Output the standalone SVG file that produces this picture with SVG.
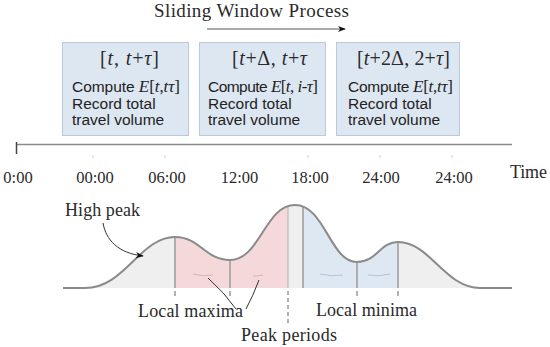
<svg xmlns="http://www.w3.org/2000/svg" width="550" height="347" viewBox="0 0 550 347">
<defs>
<marker id="ah" viewBox="0 0 10 10" refX="9" refY="5" markerWidth="8" markerHeight="8" orient="auto" markerUnits="userSpaceOnUse"><path d="M0,1 L10,5 L0,9 L3,5 Z" fill="#111"/></marker>
<clipPath id="under"><path d="M63,288 L85,288 C125,288 140,237 175,237 C200,237 205,260 230,260 C260,260 265,205 295,205 C325,205 330,262 357,262 C377,262 380,242 398,242 C430,242 445,288 480,288 L512,288 Z"/></clipPath>
<style>
.serif{font-family:"Liberation Serif","DejaVu Serif",serif;fill:#2a2a2a}
.lbl{font-size:18px}
.tl{font-size:16.5px;text-anchor:middle}
.hdr{font-size:20px}
.sans{font-family:"Liberation Sans",Arial,sans-serif;fill:#222;font-size:15.5px}
.m{font-family:"Liberation Serif","DejaVu Serif",serif;font-size:17px}
.i{font-style:italic}
.box{fill:#dde7f2;stroke:#b8cadc;stroke-width:1}
.div{stroke:#9a9a9a;stroke-width:1.5}
.tick{stroke:#666;stroke-width:1}
.faint{fill:none;stroke-width:1}
.conn{fill:none;stroke:#333;stroke-width:1}
</style>
</defs>
<rect width="550" height="347" fill="#fff"/>

<g id="title">
<text class="serif" x="154" y="17" font-size="19" textLength="195">Sliding Window Process</text>
</g>

<g id="box1">
<rect class="box" x="62.5" y="42.5" width="126" height="93"/>
<text class="serif hdr" x="100" y="65" textLength="59">[<tspan class="i">t</tspan>, <tspan class="i">t</tspan>+<tspan class="i">τ</tspan>]</text>
<text class="sans" x="72" y="91.5" textLength="108">Compute <tspan class="m"><tspan class="i">E</tspan>[<tspan class="i">t</tspan>,<tspan class="i">tτ</tspan>]</tspan></text>
<text class="sans" x="72" y="108.5">Record total</text>
<text class="sans" x="72" y="124.5">travel volume</text>
</g>

<g id="box2">
<rect class="box" x="199.5" y="42.5" width="126" height="93"/>
<text class="serif hdr" x="232" y="65" textLength="75">[<tspan class="i">t</tspan>+Δ, <tspan class="i">t</tspan>+<tspan class="i">τ</tspan></text>
<text class="sans" x="208" y="91.5" textLength="110">Compute <tspan class="m"><tspan class="i">E</tspan>[<tspan class="i">t</tspan>, <tspan class="i">i</tspan>-<tspan class="i">τ</tspan>]</tspan></text>
<text class="sans" x="208" y="108.5">Record total</text>
<text class="sans" x="208" y="124.5">travel volume</text>
</g>

<g id="box3">
<rect class="box" x="336.5" y="42.5" width="123" height="93"/>
<text class="serif hdr" x="357" y="65" textLength="93">[<tspan class="i">t</tspan>+2Δ, 2+<tspan class="i">τ</tspan>]</text>
<text class="sans" x="348" y="91.5" textLength="105">Compute <tspan class="m"><tspan class="i">E</tspan>[<tspan class="i">t</tspan>,<tspan class="i">tτ</tspan>]</tspan></text>
<text class="sans" x="348" y="108.5">Record total</text>
<text class="sans" x="348" y="124.5">travel volume</text>
</g>

<g id="timeline">
<line x1="16" y1="144.5" x2="512" y2="144.5" stroke="#8a8a8a" stroke-width="1.5"/>
<line x1="16.5" y1="142" x2="16.5" y2="154" stroke="#444" stroke-width="1.5"/>
<g stroke="#cfcfcf" stroke-width="1">
<line x1="93" y1="155" x2="93" y2="158"/>
<line x1="165" y1="155" x2="165" y2="158"/>
<line x1="308" y1="155" x2="308" y2="158"/>
<line x1="380" y1="155" x2="380" y2="158"/>
<line x1="452" y1="155" x2="452" y2="158"/>
</g>
<text class="serif tl" x="18" y="183">0:00</text>
<text class="serif tl" x="95" y="183">00:00</text>
<text class="serif tl" x="167" y="183">06:00</text>
<text class="serif tl" x="239.5" y="183">12:00</text>
<text class="serif tl" x="310" y="183">18:00</text>
<text class="serif tl" x="381" y="183">24:00</text>
<text class="serif tl" x="454" y="183">24:00</text>
<text class="serif lbl" x="510" y="178" textLength="37">Time</text>
</g>

<g id="curve">
<g clip-path="url(#under)">
<rect x="60" y="195" width="115" height="93" fill="#efefef"/>
<rect x="175" y="195" width="113" height="93" fill="#f5d8d9"/>
<rect x="288" y="195" width="15" height="93" fill="#efefef"/>
<rect x="303" y="195" width="95" height="93" fill="#dde8f3"/>
<rect x="398" y="195" width="120" height="93" fill="#efefef"/>
<line class="div" x1="175" y1="200" x2="175" y2="288"/>
<line class="div" x1="230" y1="200" x2="230" y2="288"/>
<line x1="288" y1="200" x2="288" y2="288" stroke="#bbb" stroke-width="1.2"/>
<line class="div" x1="303" y1="200" x2="303" y2="288"/>
<line class="div" x1="357" y1="200" x2="357" y2="288"/>
<line class="div" x1="398" y1="200" x2="398" y2="288"/>
</g>
<path class="faint" stroke="#d9b4b6" d="M193,274 Q203,277 213,275"/>
<path class="faint" stroke="#d9b4b6" d="M253,276 Q258,276 263,275"/>
<path class="faint" stroke="#b3c4d6" d="M320,274 Q331,277 343,275"/>
<path class="faint" stroke="#b3c4d6" d="M368,275 Q379,277 390,274"/>
<path d="M63,288 L85,288 C125,288 140,237 175,237 C200,237 205,260 230,260 C260,260 265,205 295,205 C325,205 330,262 357,262 C377,262 380,242 398,242 C430,242 445,288 480,288 L512,288" fill="none" stroke="#8a8a8a" stroke-width="2"/>
</g>

<g id="labels">
<text class="serif lbl" x="65" y="215.5" textLength="75">High peak</text>
<text class="serif lbl" x="138" y="316.5" textLength="105">Local maxima</text>
<text class="serif lbl" x="316" y="315.5" textLength="101">Local minima</text>
<text class="serif lbl" x="241" y="341" textLength="96">Peak periods</text>
</g>

<g id="connectors">
<path class="conn" d="M103,223 C106,240 118,253 143,256" marker-end="url(#ah)"/>
<path class="conn" d="M208,278 Q224,292 236,309"/>
<path class="conn" d="M259,280 Q253,296 246,309"/>
<g class="tick">
<line x1="175" y1="291" x2="175" y2="296"/>
<line x1="230" y1="291" x2="230" y2="296"/>
<line x1="357" y1="291" x2="357" y2="296"/>
<line x1="398" y1="291" x2="398" y2="296"/>
<line x1="288" y1="291" x2="288" y2="324" stroke-dasharray="4,3"/>
</g>
<line x1="207" y1="29" x2="345" y2="29" stroke="#555" stroke-width="1.2" marker-end="url(#ah)"/>
</g>
</svg>
